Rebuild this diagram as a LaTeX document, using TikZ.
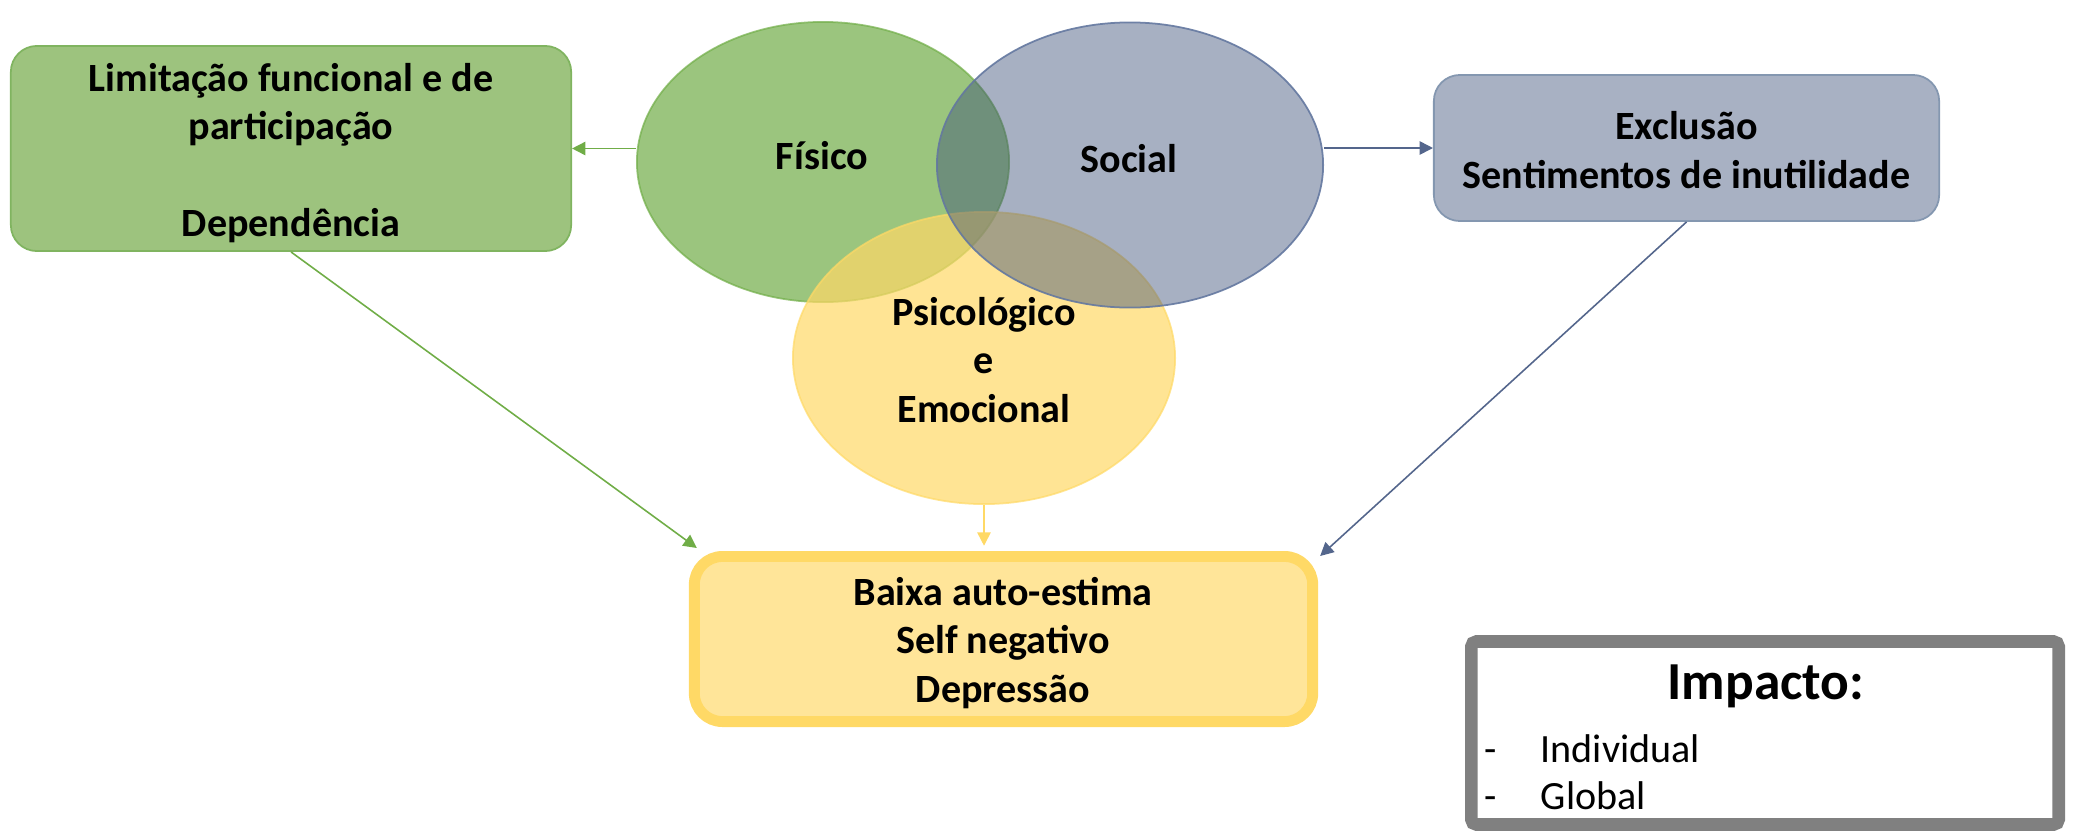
\documentclass[tikz,border=0pt]{standalone}
\usepackage{fontspec}
\setmainfont{Carlito}
\usetikzlibrary{shapes.geometric,arrows.meta}
\definecolor{gbase}{RGB}{112,173,71}
\definecolor{gfill}{RGB}{157,195,126}
\definecolor{gbord}{RGB}{128,180,96}
\definecolor{bbase}{RGB}{60,80,120}
\definecolor{bline}{RGB}{100,120,160}
\definecolor{bfill}{RGB}{168,177,195}
\definecolor{bbord}{RGB}{132,151,176}
\definecolor{barrow}{RGB}{84,102,140}
\definecolor{ybase}{RGB}{255,217,102}
\definecolor{yfill}{RGB}{255,229,153}
\definecolor{grayb}{RGB}{128,128,128}
\begin{document}
\begin{tikzpicture}[x=0.01cm,y=-0.01cm,
  txt/.style={font=\fontsize{11.4}{13.8}\selectfont\bfseries, align=center, text=black},
  plain/.style={font=\fontsize{11.4}{13.8}\selectfont, text=black, inner sep=0pt},
  ell/.style={ellipse, inner sep=0pt},
  roundbox/.style={rounded corners=7.4pt, inner sep=0pt},
  conn/.style={line width=0.45pt, -{Triangle[length=3.8pt,width=3.8pt]}}
]
\useasboundingbox (0,0) rectangle (2073,833);

% Venn ellipses (green, yellow, blue in that order)
\node[ell, minimum width=3.72cm, minimum height=2.80cm, fill=gbase, fill opacity=0.7, draw=gbase, draw opacity=0.7, line width=0.5pt] (fis) at (823,162) {};
\node[ell, minimum width=3.82cm, minimum height=2.92cm, fill=ybase, fill opacity=0.7, draw=ybase, draw opacity=0.7, line width=0.5pt] (yel) at (984,358) {};
\node[ell, minimum width=3.86cm, minimum height=2.85cm, fill=bbase, fill opacity=0.45, draw=bline, draw opacity=0.9, line width=0.5pt] (soc) at (1130,165) {};

% Venn labels
\node[txt] (tfis) at (822,156) {Físico};
\node[txt] (tsoc) at (1129,159) {Social};
\node[txt] (tyel) at (984,360) {Psicológico\\e\\Emocional};

% Boxes
\node[roundbox, minimum width=5.60cm, minimum height=2.05cm, fill=gfill, draw=gbord, line width=0.5pt] (gbox) at (291,148.5) {};
\node[txt] (gtext) at (291,153) {Limitação funcional e de\\participação\\[13.8pt]Dependência};
\node[roundbox, minimum width=5.05cm, minimum height=1.46cm, fill=bfill, draw=bbord, line width=0.5pt] (bbox) at (1686.5,148) {};
\node[txt] (btext) at (1686.5,150) {Exclusão\\Sentimentos de inutilidade};
\node[rounded corners=8pt, inner sep=0pt, minimum width=6.18cm, minimum height=1.65cm, fill=yfill, draw=ybase, line width=3.1pt] (ybox) at (1003.5,639) {};
\node[txt] (ytext) at (1003,643) {Baixa auto-estima\\Self negativo\\Depressão};

% Impacto box
\node[rounded corners=1.5pt, inner sep=0pt, minimum width=5.87cm, minimum height=1.83cm, fill=white, draw=grayb, line width=3.6pt] (ibox) at (1765,733) {};
\node[font=\fontsize{15.2}{18}\selectfont\bfseries, inner sep=0pt] (ititle) at (1766,686) {Impacto:};
\node[plain, anchor=base] (d1) at (1491,762) {-};
\node[plain, anchor=base west] (i1) at (1540,762) {Individual};
\node[plain, anchor=base] (d2) at (1491,809) {-};
\node[plain, anchor=base west] (i2) at (1540,809) {Global};

% Connectors
\draw[conn, gbase] (fis.west |- gbox.east) -- (gbox.east);
\draw[conn, barrow] (soc.east |- bbox.west) -- (bbox.west);
\draw[conn, gbase] (gbox.south) -- ([shift={(8,-3)}]ybox.north west);
\draw[conn, barrow] (bbox.south) -- ([shift={(2,5)}]ybox.north east);
\draw[conn, ybase] (yel.south) -- ([yshift=1.5pt]yel.south |- ybox.north);
\end{tikzpicture}
\end{document}
